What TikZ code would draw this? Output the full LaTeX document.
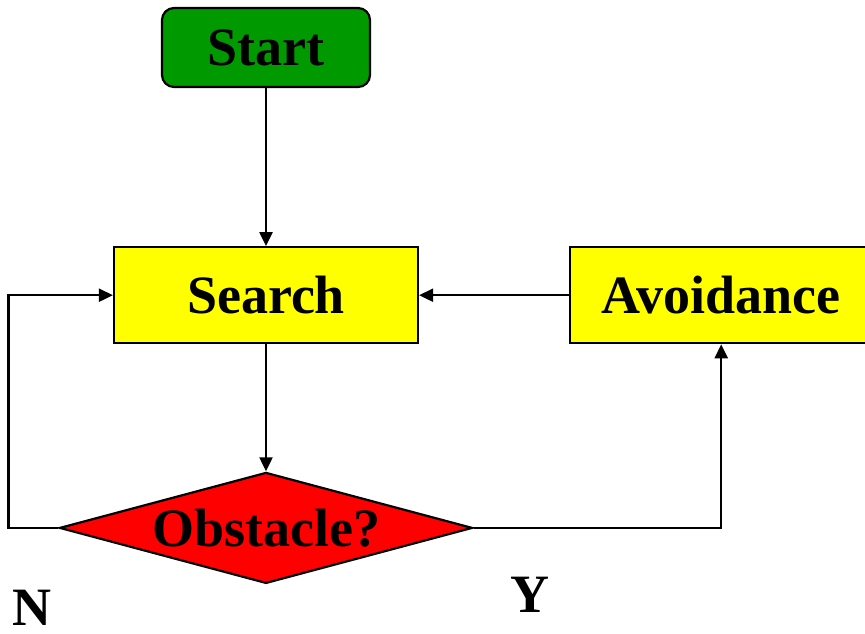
\documentclass[tikz,border=0pt]{standalone}
\usepackage{fontspec}
\setmainfont{Liberation Serif}
\usetikzlibrary{arrows.meta,positioning,shapes.geometric}
\definecolor{startgreen}{HTML}{009900}
\definecolor{boxyellow}{HTML}{FFFF00}
\definecolor{alertred}{HTML}{FF0000}
\newcommand{\flowfont}{\fontsize{27}{29}\selectfont\bfseries}
\tikzset{
  startbox/.style={draw=black,fill=startgreen,rounded corners=6pt,minimum width=104pt,minimum height=39.5pt,inner sep=0pt,line width=1.1pt,font=\flowfont},
  yellowbox/.style={draw=black,fill=boxyellow,minimum height=48pt,inner sep=0pt,line width=1.1pt,font=\flowfont},
  decision/.style={draw=black,fill=alertred,diamond,shape aspect=3.72,minimum width=206.5pt,minimum height=55.5pt,inner sep=0pt,line width=1.1pt,font=\flowfont},
  answer/.style={inner sep=0pt,font=\flowfont},
  flow/.style={-{Triangle[length=7pt,width=6.5pt]},line width=1.1pt},
}
\begin{document}
\begin{tikzpicture}[x=0.5pt,y=-0.5pt]
  \useasboundingbox (0,0) rectangle (865,633);
  \node[startbox] (start) at (266,47.5) {Start};
  \node[yellowbox,minimum width=152pt,below=79pt of start] (search) {Search};
  \node[yellowbox,minimum width=151pt,right=75pt of search] (avoid) {Avoidance};
  \node[decision,below=63.5pt of search] (obst) {Obstacle?};
  \node[answer] (no) at (32,608) {N};
  \node[answer] (yes) at (530,595) {Y};
  \draw[flow] (start) -- (search);
  \draw[flow] (search) -- (obst);
  \draw[flow] (avoid) -- (search);
  \draw[flow] (obst.east) -| (avoid);
  \draw[flow] (obst.west) -- ++(-50,0) |- (search.west);
\end{tikzpicture}
\end{document}
